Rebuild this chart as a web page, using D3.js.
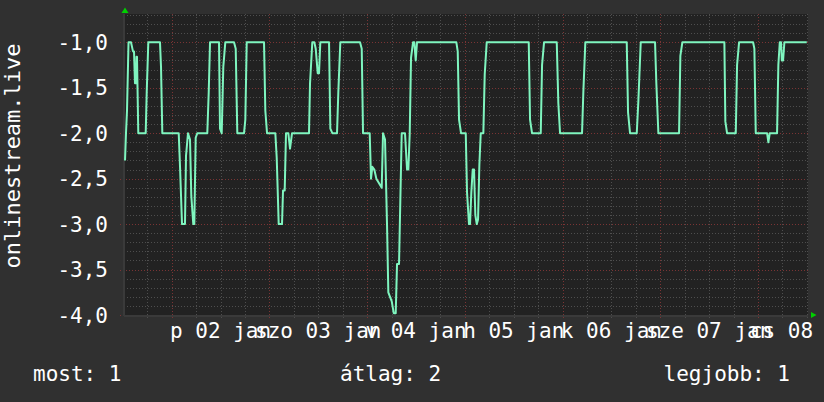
<!DOCTYPE html>
<html><head><meta charset="utf-8">
<script src="https://cdn.jsdelivr.net/npm/d3@7"></script>
<style>html,body{margin:0;padding:0;background:#303030;} svg{display:block;}</style>
</head><body><svg id="c" width="824" height="402"></svg>
<script>
// ---- data ----
const startTime = "2015-01-01T12:17:00";
const spanHours = 168;
const hoursFromStart = [0.25,0.49,0.74,1.11,1.72,2.21,2.46,2.70,2.95,3.07,3.19,3.51,5.33,5.58,5.97,8.84,9.09,9.41,13.44,13.76,14.25,14.98,15.23,15.72,16.21,16.53,17.02,17.27,17.61,18.01,20.46,20.81,21.13,23.34,23.58,24.00,24.39,24.88,27.02,27.44,27.83,29.48,29.80,30.14,34.39,34.71,35.13,37.17,37.51,38.00,38.81,39.06,39.47,39.79,40.36,40.78,41.27,45.44,45.69,46.25,46.75,47.09,47.58,47.90,48.22,50.36,50.68,51.17,52.32,52.64,53.13,57.97,58.39,58.71,60.35,60.67,60.99,61.48,61.98,62.64,63.30,63.62,64.11,64.60,64.92,65.76,66.25,66.74,67.06,67.55,67.87,68.21,69.02,69.52,69.84,70.18,70.50,70.99,71.31,71.65,71.97,81.63,81.97,82.29,82.78,83.94,84.25,84.74,84.99,85.31,85.65,85.97,86.29,86.64,86.96,87.28,87.62,88.26,88.60,89.09,99.41,99.73,100.22,102.36,102.68,103.17,106.29,106.68,107.10,112.50,112.82,113.31,123.48,123.80,124.29,125.94,126.33,126.92,130.43,130.75,131.25,136.33,136.65,137.14,147.46,147.70,148.12,150.26,150.58,151.07,154.51,154.83,155.17,157.95,158.27,158.61,160.40,160.72,161.07,161.39,161.56,161.88,162.20,167.70];
const rankValues = [-2.3,-2.0,-1.75,-1.0,-1.0,-1.1,-1.1,-1.45,-1.45,-1.16,-1.16,-2.0,-2.0,-1.55,-1.0,-1.0,-1.27,-2.0,-2.0,-2.37,-3.0,-3.0,-2.25,-2.0,-2.07,-2.69,-3.0,-3.0,-2.05,-2.0,-2.0,-1.55,-1.0,-1.0,-1.95,-2.0,-1.27,-1.0,-1.0,-1.07,-2.0,-2.0,-1.85,-1.0,-1.0,-1.75,-2.0,-2.0,-2.27,-3.0,-3.0,-2.63,-2.63,-2.0,-2.0,-2.17,-2.0,-2.0,-1.45,-1.0,-1.0,-1.07,-1.34,-1.34,-1.0,-1.0,-1.95,-2.0,-2.0,-1.55,-1.0,-1.0,-1.07,-2.0,-2.0,-2.5,-2.37,-2.4,-2.5,-2.55,-2.6,-2.0,-2.07,-3.0,-3.75,-3.85,-3.98,-3.98,-3.44,-3.44,-2.74,-2.0,-2.0,-2.4,-2.4,-2.0,-1.17,-1.0,-1.0,-1.2,-1.0,-1.0,-1.1,-1.85,-2.0,-2.0,-2.65,-3.0,-3.0,-2.65,-2.4,-2.4,-2.9,-3.0,-2.95,-2.35,-2.0,-2.0,-1.35,-1.0,-1.0,-1.85,-2.0,-2.0,-1.25,-1.0,-1.0,-1.67,-2.0,-2.0,-1.55,-1.0,-1.0,-1.77,-2.0,-2.0,-1.65,-1.0,-1.0,-1.45,-2.0,-2.0,-1.15,-1.0,-1.0,-1.87,-2.0,-2.0,-1.25,-1.0,-1.0,-1.07,-2.0,-2.0,-2.1,-2.0,-2.0,-1.25,-1.0,-1.0,-1.2,-1.2,-1.0,-1.0];
const yTickValues = [-4.0,-3.5,-3.0,-2.5,-2.0,-1.5,-1.0];
const dayDates = ["2015-01-02","2015-01-03","2015-01-04","2015-01-05","2015-01-06","2015-01-07","2015-01-08"];
const dayLabels = ["p 02 jan","szo 03 jan","v 04 jan","h 05 jan","k 06 jan","sze 07 jan","cs 08 jan"];
const yTitle = "onlinestream.live";
const legendNames = ["most","átlag","legjobb"];
const legendValues = [1,2,1];

// ---- drawing ----
const svg = d3.select("#c");
const FONT = "'DejaVu Sans Mono', monospace";
const plot = {left:124, right:808, top:14, bottom:316};
const t0 = new Date(startTime);
const t1 = new Date(t0.getTime() + spanHours*3600e3);
const x = d3.scaleTime().domain([t0,t1]).range([plot.left, plot.right]);
const y = d3.scaleLinear().domain([-4.0,-1.0]).range([315,42.3]);
const loc = d3.formatLocale({decimal:",",thousands:" ",grouping:[3],currency:["",""],minus:"-"});
const fmt = loc.format(".1f");

svg.append("rect").attr("width",824).attr("height",402).attr("fill","#303030");
svg.append("rect").attr("x",plot.left).attr("y",plot.top)
  .attr("width",plot.right-plot.left).attr("height",plot.bottom-plot.top).attr("fill","#222222");

const g = svg.append("g");
// horizontal grid
const yMinor = d3.range(-40,-6).map(d=>d/10);
yMinor.forEach(v=>{
  const major = Math.abs(v*2-Math.round(v*2))<1e-6;
  g.append("line").attr("x1",major?120:plot.left).attr("x2",plot.right)
   .attr("y1",Math.round(y(v))+0.5).attr("y2",Math.round(y(v))+0.5)
   .attr("stroke",major?"#7a3434":"#4e4e4e").attr("stroke-dasharray","1,2");
});
// vertical grid
const hours6 = d3.timeHour.every(6).range(t0,t1);
hours6.forEach(t=>{
  const major = t.getHours()===0;
  g.append("line").attr("x1",Math.round(x(t))+0.5).attr("x2",Math.round(x(t))+0.5)
   .attr("y1",plot.top).attr("y2",plot.bottom+2)
   .attr("stroke",major?"#7a3434":"#4e4e4e").attr("stroke-dasharray","1,2");
});
// axis lines
g.append("line").attr("x1",plot.left).attr("x2",plot.left).attr("y1",plot.top).attr("y2",plot.bottom)
 .attr("stroke","#3a3a3a").attr("stroke-width",2);
g.append("line").attr("x1",plot.left).attr("x2",plot.right).attr("y1",plot.bottom).attr("y2",plot.bottom)
 .attr("stroke","#3a3a3a").attr("stroke-width",2);

// arrows
svg.append("path").attr("d","M121.5,13 L125,7.5 L128.5,13 Z").attr("fill","#00d000");
svg.append("path").attr("d","M811,312 L816.5,315 L811,318 Z").attr("fill","#00d000");

// series line
const pts = hoursFromStart.map((h,i)=>[new Date(t0.getTime()+h*3600e3), rankValues[i]]);
const line = d3.line().x(d=>x(d[0])).y(d=>y(d[1]));
svg.append("path").datum(pts).attr("d",line).attr("fill","none")
  .attr("stroke","#7ff5bf").attr("stroke-width",2).attr("stroke-linejoin","round");

// y labels
svg.append("g").selectAll("text").data(yTickValues).join("text")
  .attr("x",108).attr("y",d=>y(d)+7.5).attr("text-anchor","end")
  .attr("font-family",FONT).attr("font-size",21).attr("fill","#ffffff").text(d=>fmt(d));

// x labels centred at noon
svg.append("g").selectAll("text").data(dayDates).join("text")
  .attr("x",d=>x(d3.timeHour.offset(d3.timeDay.floor(new Date(d+"T00:00:00")),12)))
  .attr("y",338).attr("text-anchor","middle")
  .attr("font-family",FONT).attr("font-size",21).attr("fill","#ffffff")
  .text((d,i)=>dayLabels[i]);

// y title
svg.append("text").attr("transform","translate(20,156) rotate(-90)")
  .attr("text-anchor","middle").attr("font-family",FONT).attr("font-size",22)
  .attr("fill","#ffffff").text(yTitle);

// legend
const legX = [33,340,790], legAnchor = ["start","start","end"];
legendNames.forEach((n,i)=>{
  svg.append("text").attr("x",legX[i]).attr("y",381).attr("text-anchor",legAnchor[i])
    .attr("font-family",FONT).attr("font-size",21).attr("fill","#ffffff")
    .text(n+": "+legendValues[i]);
});
</script></body></html>
